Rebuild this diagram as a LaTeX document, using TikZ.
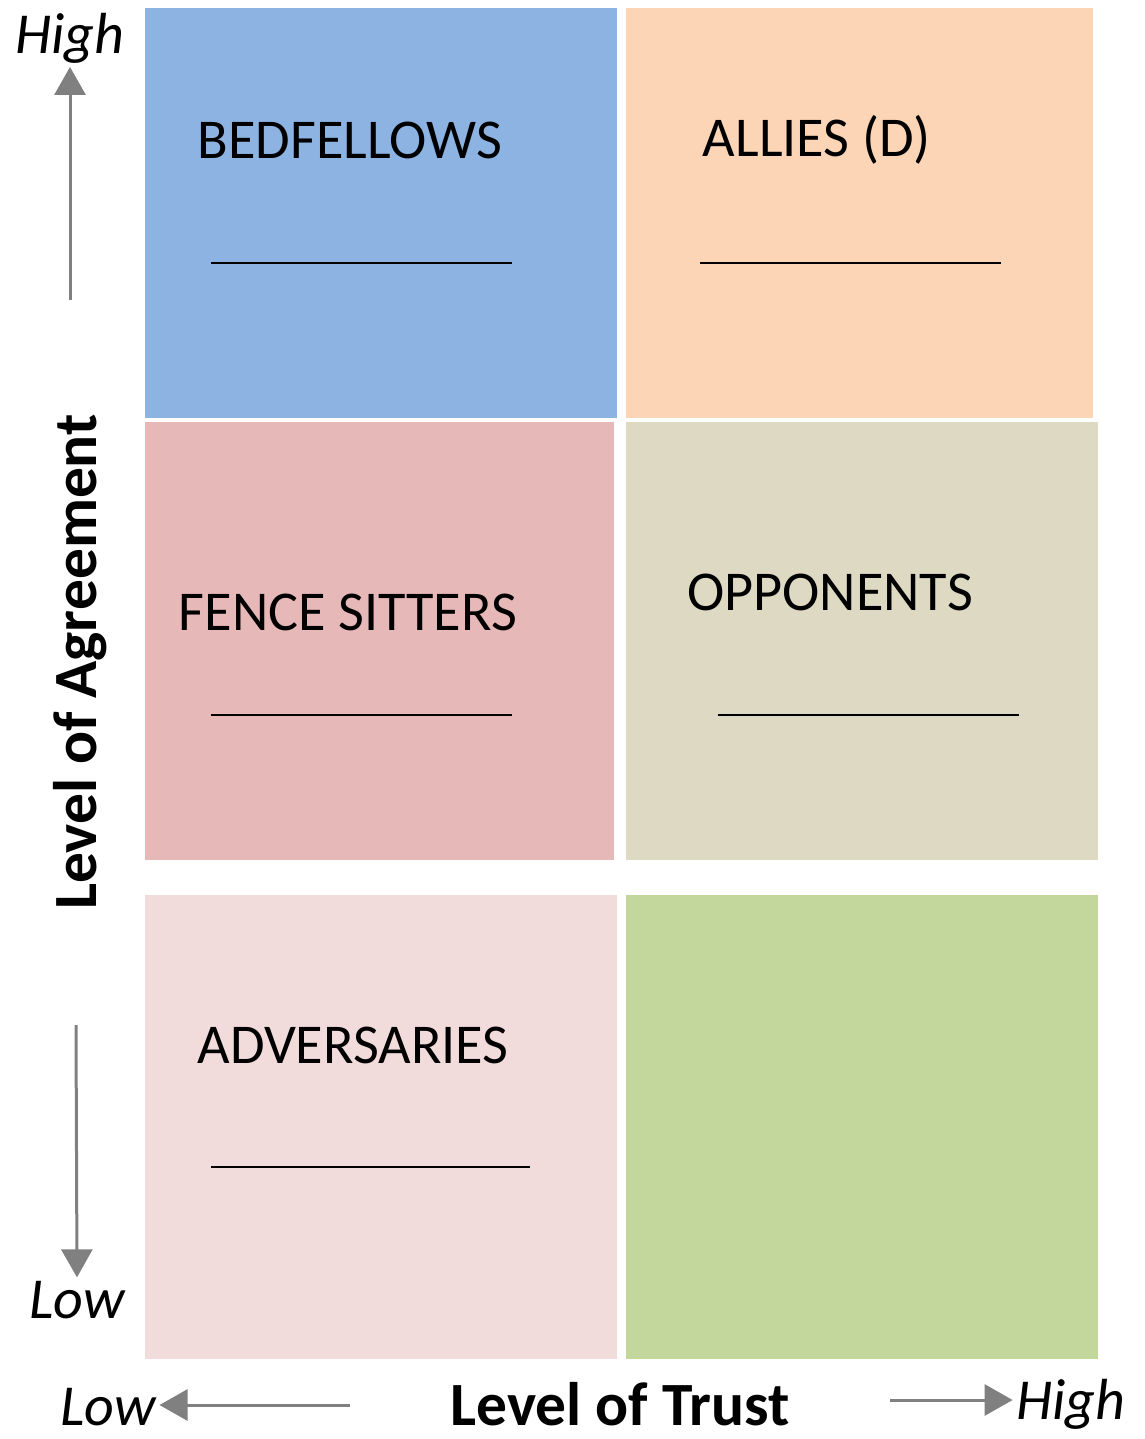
\documentclass[tikz,border=0pt]{standalone}
\usepackage{fontspec}
\setmainfont{Carlito}
\usepackage{tikz}
\usetikzlibrary{arrows.meta,positioning}
\definecolor{bedblue}{HTML}{8DB3E2}
\definecolor{allyorange}{HTML}{FBD5B5}
\definecolor{fencerose}{HTML}{E6B9B8}
\definecolor{opptan}{HTML}{DDD9C3}
\definecolor{advpink}{HTML}{F2DCDB}
\definecolor{trustgreen}{HTML}{C3D69B}
\definecolor{axisgray}{HTML}{808080}

\begin{document}
\begin{tikzpicture}[x=0.02cm,y=-0.02cm,
  quad/.style={inner sep=0pt,outer sep=0pt,draw=none},
  qlabel/.style={font=\fontsize{32}{32}\selectfont,inner sep=0pt},
  axislabel/.style={font=\fontsize{35}{35}\selectfont\bfseries,inner sep=0pt},
  endlabel/.style={font=\fontsize{33}{33}\selectfont\itshape,inner sep=2pt},
  blank/.style={line width=0.04cm,black},
  axisarrow/.style={line width=0.06cm,axisgray,-{Triangle[width=0.62cm,length=0.56cm]}}]
\useasboundingbox (0,0) rectangle (1145,1439);
% quadrants
\node[quad,fill=bedblue,minimum width=9.44cm,minimum height=8.2cm] (bed) at (381,213) {};
\node[quad,fill=allyorange,minimum width=9.34cm,minimum height=8.2cm] (ally) at (859.5,213) {};
\node[quad,fill=fencerose,minimum width=9.38cm,minimum height=8.76cm] (fence) at (379.5,641) {};
\node[quad,fill=opptan,minimum width=9.44cm,minimum height=8.76cm] (opp) at (862,641) {};
\node[quad,fill=advpink,minimum width=9.44cm,minimum height=9.28cm] (adv) at (381,1127) {};
\node[quad,fill=trustgreen,minimum width=9.44cm,minimum height=9.28cm] (trust) at (862,1127) {};
% labels and blanks
\node[qlabel] (bedtxt) at (350,140) {BEDFELLOWS};
\node[qlabel] (allytxt) at (817,140) {ALLIES (D)};
\node[qlabel] (fencetxt) at (348,612) {FENCE SITTERS};
\node[qlabel] (opptxt) at (830,592) {OPPONENTS};
\node[qlabel] (advtxt) at (353,1045) {ADVERSARIES};
\draw[blank] (211,263) -- (512,263);
\draw[blank] (700,263) -- (1001,263);
\draw[blank] (211,715) -- (512,715);
\draw[blank] (718,715) -- (1019,715);
\draw[blank] (211,1167) -- (530,1167);
% axes
\node[axislabel,rotate=90] (agree) at (80,662) {Level of Agreement};
\node[axislabel] (trusttxt) at (620,1404) {Level of Trust};
\node[endlabel] (hightop) at (70,38) {High};
\node[endlabel] (lowleft) at (77,1300) {Low};
\node[endlabel] (lowbot) at (108,1407) {Low};
\node[endlabel] (highbot) at (1071,1404) {High};
\coordinate (upfrom) at (70,300);
\coordinate (downfrom) at (76,1025);
\coordinate (leftfrom) at (350,1405);
\coordinate (rightfrom) at (890,1400);
\draw[axisarrow] (upfrom) -- (hightop.south);
\draw[axisarrow] (downfrom) -- (lowleft.north);
\draw[axisarrow] (leftfrom) -- (lowbot.east |- leftfrom);
\draw[axisarrow] (rightfrom) -- (highbot.west |- rightfrom);
\end{tikzpicture}
\end{document}
